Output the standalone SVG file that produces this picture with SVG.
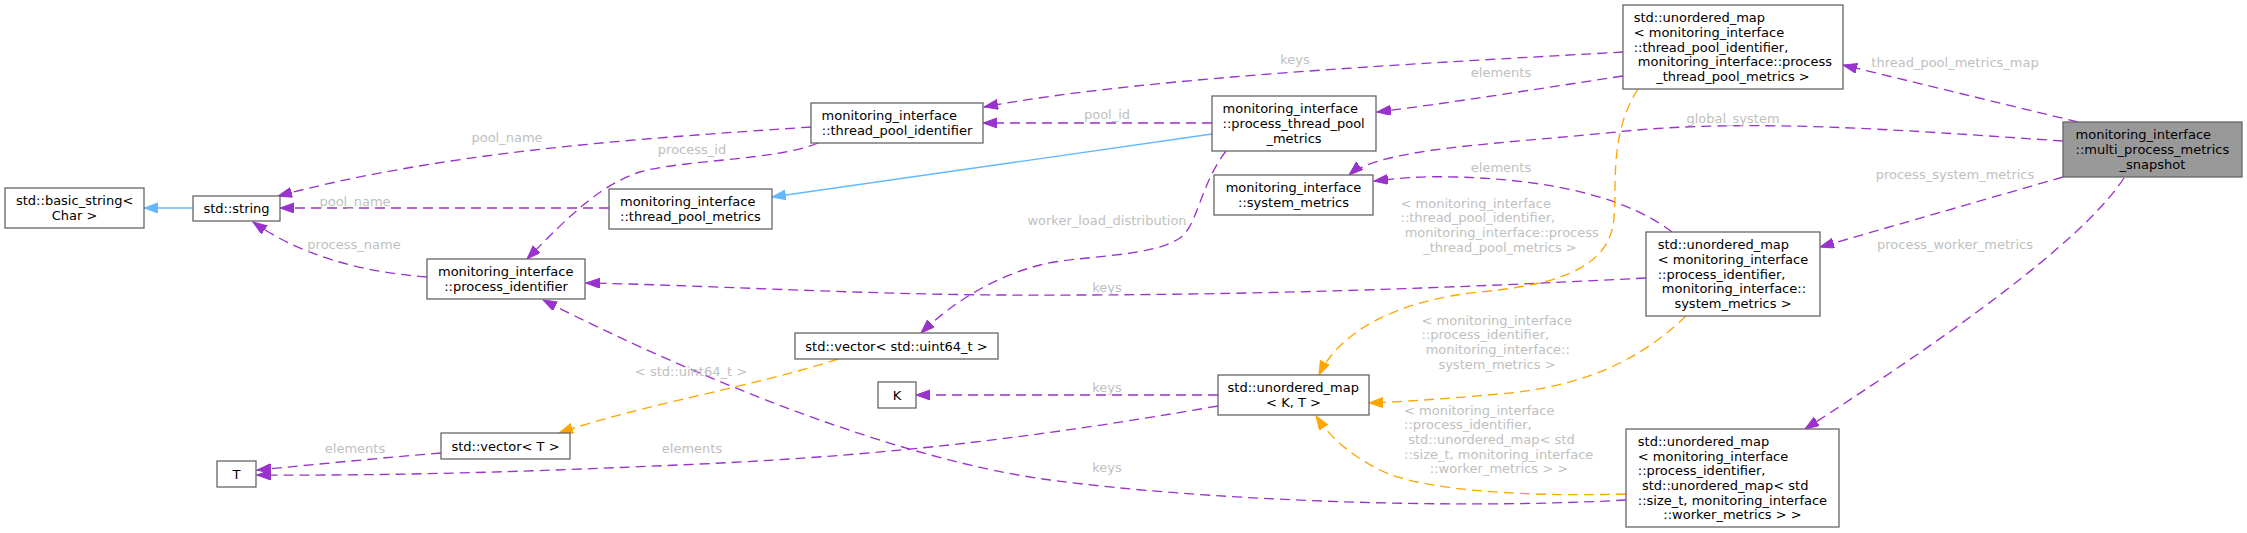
<svg xmlns="http://www.w3.org/2000/svg" width="2247" height="533" viewBox="0 0 2247 533">
<style>
text{font-family:"DejaVu Sans","Liberation Sans",sans-serif;font-size:13px}
.n rect{fill:#ffffff;stroke:#666666;stroke-width:1.3}
.main rect{fill:#999999}
.n text{fill:#000000}
.l{fill:#c0c0c0}
.c{text-anchor:middle}
.e{fill:none;stroke-width:1.33;stroke-dasharray:10,6}
.p{stroke:#9a32cd;marker-end:url(#ap)}
.o{stroke:#ffa500;marker-end:url(#ao)}
.b{stroke:#63b8ff;stroke-dasharray:none;marker-end:url(#ab)}
</style>
<defs>
<marker id="ap" markerUnits="userSpaceOnUse" markerWidth="15" markerHeight="11" refX="14" refY="5" orient="auto"><path d="M0,0 L14,5 L0,10 Z" fill="#9a32cd" stroke="#9a32cd" stroke-width="1"/></marker>
<marker id="ao" markerUnits="userSpaceOnUse" markerWidth="15" markerHeight="11" refX="14" refY="5" orient="auto"><path d="M0,0 L14,5 L0,10 Z" fill="#ffa500" stroke="#ffa500" stroke-width="1"/></marker>
<marker id="ab" markerUnits="userSpaceOnUse" markerWidth="15" markerHeight="11" refX="14" refY="5" orient="auto"><path d="M0,0 L14,5 L0,10 Z" fill="#63b8ff" stroke="#63b8ff" stroke-width="1"/></marker>
</defs>
<g id="edges">
<path class="e b" d="M193,208 L144,208"/>
<path class="e b" d="M1212,134 L772,197"/>
<path class="e p" d="M609,208 L280,208"/>
<path class="e p" d="M811,127 C650,138 450,150 278,196"/>
<path class="e p" d="M427,277 C360,272 300,255 253,222"/>
<path class="e p" d="M818,143 C780,160 680,160 640,172 C600,185 570,215 527,259"/>
<path class="e p" d="M1212,123 L983,123"/>
<path class="e p" d="M1623,52 C1450,62 1150,76 984,107"/>
<path class="e p" d="M1623,76 C1530,90 1450,103 1377,112"/>
<path class="e p" d="M2063,141 C1900,130 1750,118 1616,132 C1500,144 1380,148 1349,175"/>
<path class="e p" d="M1672,232 C1630,200 1560,180 1457,177 C1420,176 1400,178 1374,181"/>
<path class="e p" d="M2078,122 L1843,65"/>
<path class="e p" d="M2063,177 L1820,247"/>
<path class="e p" d="M2124,178 C2090,230 1990,310 1805,429"/>
<path class="e p" d="M1646,278 C1450,288 1250,296 1000,295 C850,294 700,285 586,283"/>
<path class="e p" d="M1626,500 C1450,510 1200,500 1050,480 C900,460 700,380 543,300"/>
<path class="e p" d="M1226,151 C1200,185 1198,225 1180,238 C1150,258 1080,255 1040,265 C990,278 950,305 921,333"/>
<path class="e p" d="M1218,395 L916,395"/>
<path class="e p" d="M1218,406 C1050,435 900,455 700,464 C550,471 400,476 257,475"/>
<path class="e p" d="M441,453 C380,458 320,464 257,470"/>
<path class="e o" d="M1638,89 C1605,140 1620,200 1612,230 C1600,275 1540,286 1480,292 C1400,300 1340,330 1319,375"/>
<path class="e o" d="M1686,316 C1650,350 1600,385 1500,394 C1440,399 1400,402 1369,403"/>
<path class="e o" d="M1626,494 C1520,497 1420,490 1380,470 C1350,455 1330,437 1316,416"/>
<path class="e o" d="M838,359 C760,385 640,405 559,433"/>
<text class="l c" x="507" y="141.5">pool_name</text>
<text class="l c" x="355" y="205.5">pool_name</text>
<text class="l c" x="354" y="248.5">process_name</text>
<text class="l c" x="692" y="153.5">process_id</text>
<text class="l c" x="1107" y="118.5">pool_id</text>
<text class="l c" x="1295" y="63.5">keys</text>
<text class="l c" x="1501" y="76.5">elements</text>
<text class="l c" x="1955" y="66.5">thread_pool_metrics_map</text>
<text class="l c" x="1733" y="122.5">global_system</text>
<text class="l c" x="1501" y="171.5">elements</text>
<text class="l c" x="1955" y="178.5">process_system_metrics</text>
<text class="l c" x="1955" y="248.5">process_worker_metrics</text>
<text class="l c" x="1107" y="224.5">worker_load_distribution</text>
<text class="l c" x="1107" y="291.5">keys</text>
<text class="l c" x="691" y="375.5">&lt; std::uint64_t &gt;</text>
<text class="l c" x="1107" y="391.5">keys</text>
<text class="l c" x="355" y="452.5">elements</text>
<text class="l c" x="692" y="452.5">elements</text>
<text class="l c" x="1107" y="471.5">keys</text>
<text class="l" x="1400.5" y="207.5">&lt; monitoring_interface</text>
<text class="l" x="1400.5" y="222.2">::thread_pool_identifier,</text>
<text class="l" x="1400.5" y="236.9" xml:space="preserve"> monitoring_interface::process</text>
<text class="l c" x="1500" y="251.6">_thread_pool_metrics &gt;</text>
<text class="l" x="1421.5" y="324.5">&lt; monitoring_interface</text>
<text class="l" x="1421.5" y="339.2">::process_identifier,</text>
<text class="l" x="1421.5" y="353.9" xml:space="preserve"> monitoring_interface::</text>
<text class="l c" x="1497" y="368.6">system_metrics &gt;</text>
<text class="l" x="1404" y="414.5">&lt; monitoring_interface</text>
<text class="l" x="1404" y="429.2">::process_identifier,</text>
<text class="l" x="1404" y="443.9" xml:space="preserve"> std::unordered_map&lt; std</text>
<text class="l" x="1404" y="458.6">::size_t, monitoring_interface</text>
<text class="l c" x="1499" y="473.3">::worker_metrics &gt; &gt;</text>
</g>
<g id="n_basic_string" class="n"><rect x="5" y="188" width="139" height="40"/><text x="16" y="205.2">std::basic_string&lt;</text><text class="c" x="74.5" y="219.9">Char &gt;</text></g>
<g id="n_string" class="n"><rect x="193" y="196" width="87" height="25"/><text class="c" x="236.5" y="213">std::string</text></g>
<g id="n_thread_pool_identifier" class="n"><rect x="811" y="103" width="172" height="40"/><text x="821.6" y="120.2">monitoring_interface</text><text class="c" x="897" y="134.9">::thread_pool_identifier</text></g>
<g id="n_thread_pool_metrics" class="n"><rect x="609" y="189" width="163" height="40"/><text x="620" y="206.2">monitoring_interface</text><text class="c" x="690.5" y="220.9">::thread_pool_metrics</text></g>
<g id="n_process_identifier" class="n"><rect x="427" y="259" width="158" height="40"/><text x="438" y="276.2">monitoring_interface</text><text class="c" x="506" y="290.9">::process_identifier</text></g>
<g id="n_process_thread_pool_metrics" class="n"><rect x="1212" y="96" width="164" height="55"/><text x="1222.6" y="113.3">monitoring_interface</text><text x="1222.6" y="128">::process_thread_pool</text><text class="c" x="1294" y="142.7">_metrics</text></g>
<g id="n_system_metrics" class="n"><rect x="1214" y="175" width="159" height="40"/><text x="1225.7" y="192.2">monitoring_interface</text><text class="c" x="1293.5" y="206.9">::system_metrics</text></g>
<g id="n_map_thread_pool" class="n"><rect x="1623" y="5" width="220" height="84"/><text x="1633.7" y="22.1">std::unordered_map</text><text x="1633.7" y="36.8">&lt; monitoring_interface</text><text x="1633.7" y="51.5">::thread_pool_identifier,</text><text x="1633.7" y="66.2" xml:space="preserve"> monitoring_interface::process</text><text class="c" x="1733" y="80.9">_thread_pool_metrics &gt;</text></g>
<g id="n_snapshot" class="n main"><rect x="2063" y="122" width="179" height="55"/><text x="2075.6" y="139.3">monitoring_interface</text><text x="2075.6" y="154">::multi_process_metrics</text><text class="c" x="2152.5" y="168.7">_snapshot</text></g>
<g id="n_map_system" class="n"><rect x="1646" y="232" width="174" height="84"/><text x="1657.7" y="249.1">std::unordered_map</text><text x="1657.7" y="263.8">&lt; monitoring_interface</text><text x="1657.7" y="278.5">::process_identifier,</text><text x="1657.7" y="293.2" xml:space="preserve"> monitoring_interface::</text><text class="c" x="1733" y="307.9">system_metrics &gt;</text></g>
<g id="n_vector_uint64" class="n"><rect x="795" y="333" width="203" height="26"/><text class="c" x="896.5" y="350.5">std::vector&lt; std::uint64_t &gt;</text></g>
<g id="n_K" class="n"><rect x="878" y="382" width="38" height="26"/><text class="c" x="897" y="399.5">K</text></g>
<g id="n_map_KT" class="n"><rect x="1218" y="375" width="151" height="40"/><text x="1227.6" y="392.2">std::unordered_map</text><text class="c" x="1293.5" y="406.9">&lt; K, T &gt;</text></g>
<g id="n_vector_T" class="n"><rect x="441" y="433" width="129" height="26"/><text class="c" x="505.5" y="450.5">std::vector&lt; T &gt;</text></g>
<g id="n_T" class="n"><rect x="217" y="461" width="39" height="26"/><text class="c" x="236.5" y="478.5">T</text></g>
<g id="n_map_worker" class="n"><rect x="1626" y="429" width="213" height="98"/><text x="1637.8" y="445.8">std::unordered_map</text><text x="1637.8" y="460.5">&lt; monitoring_interface</text><text x="1637.8" y="475.2">::process_identifier,</text><text x="1637.8" y="489.9" xml:space="preserve"> std::unordered_map&lt; std</text><text x="1637.8" y="504.6">::size_t, monitoring_interface</text><text class="c" x="1732.5" y="519.3">::worker_metrics &gt; &gt;</text></g>
</svg>
